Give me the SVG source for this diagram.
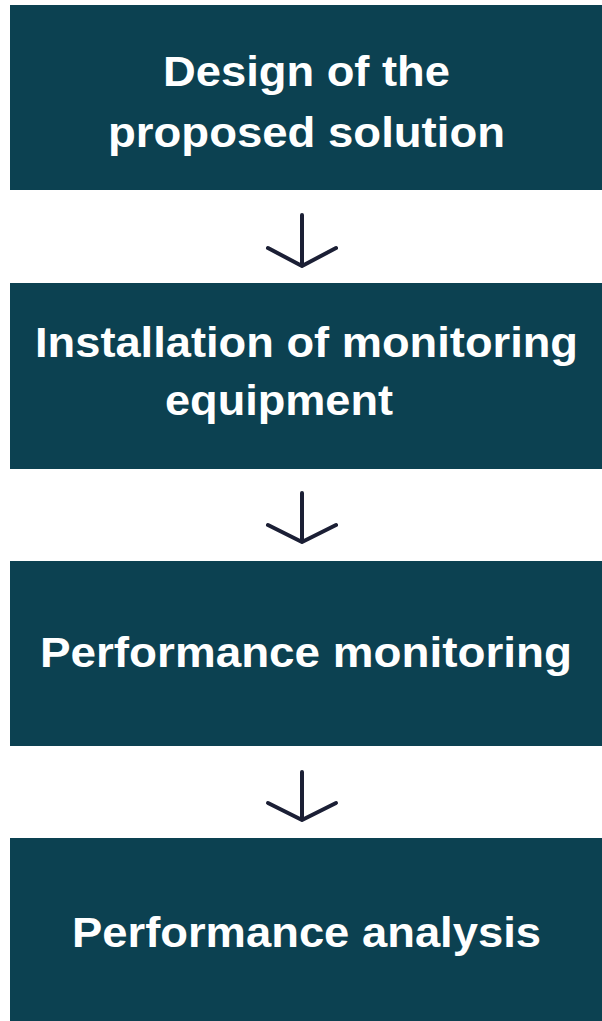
<svg xmlns="http://www.w3.org/2000/svg" width="602" height="1021" viewBox="0 0 602 1021">
<style>
.box{fill:#0c4151;}
.t{font-family:"Liberation Sans",Arial,sans-serif;font-weight:bold;font-size:42px;fill:#ffffff;}
.arr{fill:none;stroke:#1b1f35;stroke-width:4;stroke-linecap:round;stroke-linejoin:round;}
</style>
<rect width="602" height="1021" fill="#ffffff"/>
<g id="node1">
<rect class="box" x="10" y="5" width="592" height="185"/>
<text class="t" x="163" y="86" textLength="287" lengthAdjust="spacingAndGlyphs">Design of the</text>
<text class="t" x="108" y="147" textLength="397" lengthAdjust="spacingAndGlyphs">proposed solution</text>
</g>
<g id="node2">
<rect class="box" x="10" y="283" width="592" height="186"/>
<text class="t" x="35" y="357" textLength="543" lengthAdjust="spacingAndGlyphs">Installation of monitoring</text>
<text class="t" x="165" y="415" textLength="228" lengthAdjust="spacingAndGlyphs">equipment</text>
</g>
<g id="node3">
<rect class="box" x="10" y="561" width="592" height="185"/>
<text class="t" x="40" y="667" textLength="532" lengthAdjust="spacingAndGlyphs">Performance monitoring</text>
</g>
<g id="node4">
<rect class="box" x="10" y="838" width="592" height="183"/>
<text class="t" x="72" y="947" textLength="469" lengthAdjust="spacingAndGlyphs">Performance analysis</text>
</g>
<g id="connectors">
<path class="arr" d="M302 215 V266 M268 248 L302 266 L336 248"/>
<path class="arr" d="M302 493 V542 M268 525 L302 542 L336 525"/>
<path class="arr" d="M302 772 V820 M268 803 L302 820 L336 803"/>
</g>
</svg>
